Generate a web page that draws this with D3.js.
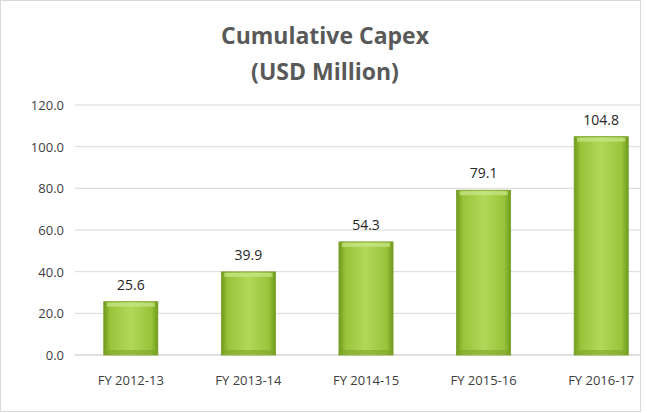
<!DOCTYPE html>
<html><head><meta charset="utf-8">
<script src="https://cdn.jsdelivr.net/npm/d3@7"></script>
<style>body{margin:0;background:#fff}</style>
</head><body>
<svg id="chart" width="647" height="413"></svg>
<script>
const categories = ["FY 2012-13","FY 2013-14","FY 2014-15","FY 2015-16","FY 2016-17"];
const values = [25.6, 39.9, 54.3, 79.1, 104.8];
const yTicks = [0, 20, 40, 60, 80, 100, 120];

const svg = d3.select("#chart");
const font = "'Open Sans', 'Liberation Sans', sans-serif";

svg.append("rect").attr("x",0.5).attr("y",0.5).attr("width",640).attr("height",411)
    .attr("fill","#fff").attr("stroke","#d9d9d9");

//title
svg.append("text").attr("x",325).attr("y",44).attr("text-anchor","middle")
    .attr("font-family",font).attr("font-weight","bold").attr("font-size",23)
    .attr("fill","#595959").text("Cumulative  Capex");
svg.append("text").attr("x",325).attr("y",80).attr("text-anchor","middle")
    .attr("font-family",font).attr("font-weight","bold").attr("font-size",23)
    .attr("fill","#595959").text("(USD Million)");

const y = d3.scaleLinear().domain([0,120]).range([355,105]);
const x = d3.scaleBand().domain(categories).range([72,660]).paddingInner(0.54).paddingOuter(0.27);

//gridlines
svg.selectAll("line.grid").data(yTicks).enter().append("line")
    .attr("x1",75).attr("x2",640)
    .attr("y1",d=>y(d)).attr("y2",d=>y(d))
    .attr("stroke",d=>d===0?"#bfbfbf":"#d9d9d9");

svg.selectAll("text.ytick").data(yTicks).enter().append("text")
    .attr("x",64).attr("y",d=>y(d)+5).attr("text-anchor","end")
    .attr("font-family",font).attr("font-size",13).attr("fill","#404040")
    .text(d=>d.toFixed(1));

//gradients
const defs = svg.append("defs");
const g1 = defs.append("linearGradient").attr("id","hg").attr("x1",0).attr("x2",1).attr("y1",0).attr("y2",0);
[[0,"#6e9a1c"],[0.12,"#98c43a"],[0.5,"#b2d85a"],[0.88,"#98c43a"],[1,"#6e9a1c"]]
    .forEach(s=>g1.append("stop").attr("offset",s[0]).attr("stop-color",s[1]));

const bars = svg.selectAll("g.bar").data(values).enter().append("g");
bars.append("rect")
    .attr("x",(d,i)=>x(categories[i])).attr("width",x.bandwidth())
    .attr("y",d=>y(d)).attr("height",d=>y(0)-y(d))
    .attr("fill","url(#hg)").attr("stroke","#7a9e2a").attr("stroke-width",0.8);
//top bevel highlight
bars.append("rect")
    .attr("x",(d,i)=>x(categories[i])+3).attr("width",x.bandwidth()-6)
    .attr("y",d=>y(d)+1).attr("height",4)
    .attr("fill","#cbe78a").attr("opacity",0.7);
//bottom shade
bars.append("rect")
    .attr("x",(d,i)=>x(categories[i])+3).attr("width",x.bandwidth()-6)
    .attr("y",d=>y(0)-5).attr("height",4)
    .attr("fill","#7fa52a").attr("opacity",0.6);

bars.append("text")
    .attr("x",(d,i)=>x(categories[i])+x.bandwidth()/2).attr("y",d=>y(d)-12)
    .attr("text-anchor","middle").attr("font-family",font).attr("font-size",14)
    .attr("fill","#262626").text(d=>d.toFixed(1));

svg.selectAll("text.xl").data(categories).enter().append("text")
    .attr("x",d=>x(d)+x.bandwidth()/2).attr("y",385)
    .attr("text-anchor","middle").attr("font-family",font).attr("font-size",13)
    .attr("fill","#404040").text(d=>d);
</script>
</body></html>
